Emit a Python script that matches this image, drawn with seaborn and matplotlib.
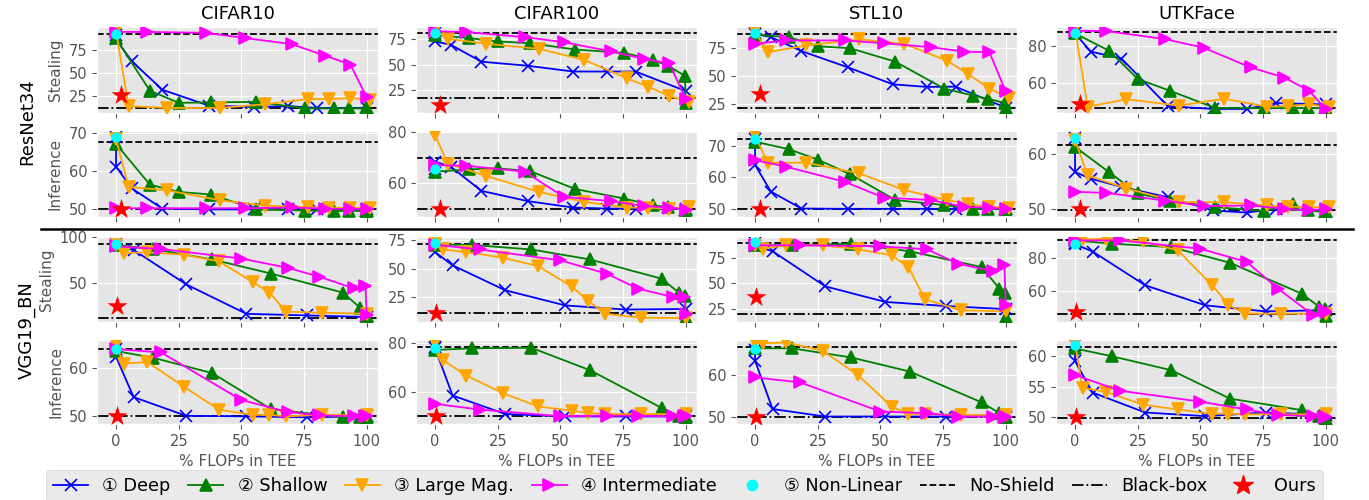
import matplotlib
matplotlib.use("Agg")
import matplotlib.pyplot as plt
from matplotlib.lines import Line2D
import seaborn as sns

# ---------------------------------------------------------------- data
datasets = ["CIFAR10", "CIFAR100", "STL10", "UTKFace"]
models = ["ResNet34", "VGG19_BN"]
metrics = ["Stealing", "Inference"]
method_labels = ["① Deep", "② Shallow", "③ Large Mag.", "④ Intermediate"]
extra_labels = ["⑤ Non-Linear", "No-Shield", "Black-box", "Ours"]
x_ticks = [0, 25, 50, 75, 100]

# % FLOPs in TEE for each partition strategy (ResNet34)
resnet_x_deep = [0, 0, 6.3, 18.5, 37, 55, 68.5, 80, 100]
resnet_x_shallow = [0, 13.5, 25, 38, 56, 75.5, 87, 93, 99.7, 100]
resnet_x_large = [0, 5, 20.5, 41.5, 59.5, 76.5, 85, 93.5, 101.5]
resnet_x_inter = [0, 12.5, 35.8, 51.3, 70, 83.5, 93.5, 100]

# % FLOPs in TEE for each partition strategy (VGG19_BN)
vgg_x_deep = [0, 0, 7, 28, 52, 76, 100]
vgg_x_shallow = [0, 14.8, 38.4, 61.8, 90.4, 97.5, 99.8, 100]
vgg_x_large = [0, 3, 12.5, 27, 41, 54.5, 61.2, 67.8, 82, 100]
vgg_x_inter = [0, 18, 50, 68.5, 81, 95, 99.5, 100]

# ResNet34 - model stealing accuracy (one list per dataset)
resnet_steal_deep = [
    [91, 86, 62.5, 32, 15, 13.5, 14.5, 12.5, 12.5],
    [81, 73, 69.7, 53, 49, 43.3, 43.3, 43.3, 24],
    [88.6, 88, 85, 72.5, 58, 42.8, 40.5, 40.7, 22],
    [87, 86.5, 76.7, 73, 47.3, 45.8, 45.8, 49, 48.2],
]
resnet_steal_shallow = [
    [87, 31, 18, 18.5, 19, 12, 12, 12, 12, 12],
    [79.5, 76.3, 73, 71.3, 65, 61.7, 54.7, 49, 39, 12.3],
    [87, 85, 76.8, 75, 63, 38.9, 32.8, 29.8, 26.2, 21.7],
    [86.5, 77.3, 62, 55.5, 46.3, 46.3, 46.3, 46.3, 46.3, 45.8],
]
resnet_steal_large = [
    [94.5, 14.5, 12.5, 12.5, 16.5, 22, 22, 23, 21.5],
    [84, 75.7, 70.7, 65.7, 54.7, 36.7, 28.3, 19, 13],
    [90, 71.5, 77.5, 83, 79, 64, 52, 39, 30.5],
    [89, 47, 51, 47.6, 51.3, 47, 47.3, 48.2, 47],
]
resnet_steal_inter = [
    [94, 94, 93, 87.5, 81, 68.5, 59, 24],
    [83, 82.3, 77.3, 72.3, 63.3, 55.7, 51.3, 15.7],
    [79, 82, 82, 79.5, 76, 72, 71.5, 36.5],
    [88, 87.8, 83.5, 78.8, 68.2, 62.7, 55.5, 45.5],
]

# ResNet34 - membership inference accuracy
resnet_infer_deep = [
    [68.9, 61.2, 55.5, 50.2, 50, 50, 50, 50, 50],
    [65.6, 68.5, 66.5, 57.1, 53.1, 50.6, 50.2, 50.2, 50.2],
    [72.4, 64, 55.5, 50.1, 50, 50, 50, 50, 50],
    [63, 56.7, 55.5, 54, 52.1, 49.7, 49.3, 50, 49.6],
]
resnet_infer_shallow = [
    [67.2, 56.5, 54.6, 53.9, 50, 49.7, 49.6, 49.6, 49.6, 49.6],
    [64.6, 65.5, 65.9, 64.8, 57.8, 54.1, 51.4, 50.8, 49.8, 49.5],
    [71.4, 69, 65.7, 61, 52.8, 51.2, 50.1, 50, 49.8, 49.8],
    [61.3, 56.7, 52.8, 51.5, 50.3, 49.6, 50.8, 49.7, 49.4, 49.4],
]
resnet_infer_large = [
    [68.5, 55.9, 55, 52.4, 51, 50.6, 50.4, 50.4, 50.4],
    [79, 67.8, 62.9, 56.7, 52.8, 50.6, 50.5, 50.2, 50.8],
    [73.5, 64.7, 64.7, 61.3, 56, 52.8, 51.5, 50.6, 50.4],
    [62.6, 56.1, 53.7, 51.2, 51.2, 50.6, 50.4, 50.3, 50.3],
]
resnet_infer_inter = [
    [50.3, 50.3, 50.3, 50.3, 50.5, 50.2, 50.1, 50.1],
    [67.2, 66.9, 64.6, 54.8, 53.1, 51.2, 50.6, 49.8],
    [65.5, 63.4, 58.6, 53.6, 52.8, 50.6, 50.4, 49.9],
    [53.1, 52.9, 51.5, 50.5, 50.6, 50, 49.7, 50],
]

# VGG19_BN - model stealing accuracy
vgg_steal_deep = [
    [92.5, 90, 86, 48, 15.5, 13.8, 12],
    [71, 64.7, 53, 31, 17.6, 14, 14.5],
    [89.5, 87, 81.6, 47, 31.6, 27.6, 24.5],
    [89, 88.5, 84, 63.3, 51, 47.3, 48],
]
vgg_steal_shallow = [
    [91.5, 87, 75.5, 60, 39, 22, 13, 13],
    [71.2, 71, 67, 58.2, 41.2, 28.5, 26, 6.5],
    [87.5, 87.5, 89, 81.6, 66, 44.7, 40.5, 16.8],
    [90.8, 88.8, 86.7, 77.1, 58.2, 50, 49, 44.5],
]
vgg_steal_large = [
    [92, 82.6, 83.3, 80.8, 73.5, 50.7, 39, 18, 16.7, 15.6],
    [72, 67, 64.7, 59.7, 52.4, 34.4, 21.5, 10.3, 6.8, 6.5],
    [88.2, 84.2, 87.5, 87.5, 83.6, 77.6, 66, 34.2, 23.4, 22.4],
    [91.8, 91.4, 91.8, 90.2, 84.7, 63.7, 51.4, 45.9, 45.9, 45.9],
]
vgg_steal_inter = [
    [90, 87, 76.5, 66.3, 56.5, 43.5, 45.7, 14.5],
    [71, 67, 57.4, 45.6, 32.4, 25, 25, 10.3],
    [87.5, 87.5, 86.5, 83.6, 69.4, 61.8, 68.4, 29],
    [90.8, 90.8, 85.7, 77.6, 61.2, 45, 48, 47],
]

# VGG19_BN - membership inference accuracy
vgg_infer_deep = [
    [64, 62.4, 54, 50.1, 50, 49.8, 50],
    [78.5, 78, 58.6, 51, 50, 50, 50],
    [66, 63.4, 51.8, 50, 50, 50, 50],
    [61.8, 59.2, 54, 50.7, 50.1, 50.7, 50.3],
]
vgg_infer_shallow = [
    [63.6, 62.2, 59, 51.5, 49.8, 49.8, 49.8, 49.8],
    [77.3, 78, 78.2, 69, 53.5, 50, 49.7, 49.7],
    [66.4, 66.4, 64.2, 60.8, 53.4, 50.8, 50, 49.8],
    [61.3, 60, 57.7, 53, 51.1, 50.1, 49.8, 49.7],
]
vgg_infer_large = [
    [65, 61, 61.3, 56.2, 51.4, 50.3, 50.3, 50, 50.3, 50.2],
    [80, 73.2, 66.8, 59.6, 54.1, 52.4, 51.4, 51, 51, 51],
    [67.8, 67.6, 67.8, 65.8, 60, 52.4, 50.6, 50.6, 50.4, 50.4],
    [62.2, 54.8, 54.1, 52, 51.2, 50.5, 50.5, 50.4, 50.4, 50.4],
]
vgg_infer_inter = [
    [64, 63.3, 53.4, 50.9, 50.2, 50, 50, 50],
    [55.2, 52.8, 50.1, 50.3, 50.3, 50, 50, 50],
    [59.4, 58.2, 51.2, 50.8, 50, 50, 50, 50],
    [56.9, 54.3, 52.5, 51.2, 50.3, 50.1, 50, 50],
]

# reference points per dataset: [CIFAR10, CIFAR100, STL10, UTKFace]
resnet_noshield_steal = [91.8, 81, 88, 87.3]
resnet_noshield_infer = [67.8, 70, 72.2, 61.7]
resnet_blackbox_steal = [12.5, 17.3, 21.4, 46.4]
resnet_blackbox_infer = [50, 50.2, 50, 49.7]
resnet_nonlinear_steal = [91.5, 81.3, 88.6, 86.7]
resnet_nonlinear_infer = [68.9, 65.6, 72.4, 63]
resnet_ours_steal = [26.5, 10, 34.3, 48.7]
resnet_ours_infer = [50, 50, 50, 50]
resnet_ours_x = 2.0

vgg_noshield_steal = [92.8, 71.5, 89.8, 91.2]
vgg_noshield_infer = [64.1, 78.6, 66.8, 61.6]
vgg_blackbox_steal = [10.9, 10.9, 20, 45.9]
vgg_blackbox_infer = [50, 50.1, 49.8, 49.8]
vgg_nonlinear_steal = [92.8, 73, 90.8, 88.8]
vgg_nonlinear_infer = [64, 78.2, 66.2, 61.8]
vgg_ours_steal = [24.6, 11.2, 36.5, 47]
vgg_ours_infer = [50, 50, 50, 50]
vgg_ours_x = 0.5

# y ticks and limits per row (one entry per dataset)
resnet_steal_yticks = [[25, 50, 75], [25, 50, 75], [25, 50, 75], [60, 80]]
resnet_infer_yticks = [[50, 60, 70], [60, 80], [50, 60, 70], [50, 60]]
vgg_steal_yticks = [[50, 100], [25, 50, 75], [25, 50, 75], [60, 80]]
vgg_infer_yticks = [[50, 60], [60, 80], [50, 60], [50, 55, 60]]
resnet_steal_ylim = [(7.1, 99.3), (2.3, 87.3), (17.2, 94), (43.6, 90)]
resnet_infer_ylim = [(48, 70.6), (46.9, 80.5), (47.4, 74.8), (48.5, 64.2)]
vgg_steal_ylim = [(6.5, 100.3), (3, 78), (11.8, 95.7), (40.8, 92.9)]
vgg_infer_ylim = [(48.4, 65.9), (46.9, 81.4), (48.2, 68.4), (48.8, 62.7)]

# ---------------------------------------------------------------- layout
rows = [
    dict(model=0, metric="Stealing",
         xs=[resnet_x_deep, resnet_x_shallow, resnet_x_large, resnet_x_inter],
         ys=[resnet_steal_deep, resnet_steal_shallow, resnet_steal_large, resnet_steal_inter],
         ns=resnet_noshield_steal, bb=resnet_blackbox_steal, nl=resnet_nonlinear_steal,
         ours=resnet_ours_steal, ours_x=resnet_ours_x,
         yticks=resnet_steal_yticks, ylim=resnet_steal_ylim),
    dict(model=0, metric="Inference",
         xs=[resnet_x_deep, resnet_x_shallow, resnet_x_large, resnet_x_inter],
         ys=[resnet_infer_deep, resnet_infer_shallow, resnet_infer_large, resnet_infer_inter],
         ns=resnet_noshield_infer, bb=resnet_blackbox_infer, nl=resnet_nonlinear_infer,
         ours=resnet_ours_infer, ours_x=resnet_ours_x,
         yticks=resnet_infer_yticks, ylim=resnet_infer_ylim),
    dict(model=1, metric="Stealing",
         xs=[vgg_x_deep, vgg_x_shallow, vgg_x_large, vgg_x_inter],
         ys=[vgg_steal_deep, vgg_steal_shallow, vgg_steal_large, vgg_steal_inter],
         ns=vgg_noshield_steal, bb=vgg_blackbox_steal, nl=vgg_nonlinear_steal,
         ours=vgg_ours_steal, ours_x=vgg_ours_x,
         yticks=vgg_steal_yticks, ylim=vgg_steal_ylim),
    dict(model=1, metric="Inference",
         xs=[vgg_x_deep, vgg_x_shallow, vgg_x_large, vgg_x_inter],
         ys=[vgg_infer_deep, vgg_infer_shallow, vgg_infer_large, vgg_infer_inter],
         ns=vgg_noshield_infer, bb=vgg_blackbox_infer, nl=vgg_nonlinear_infer,
         ours=vgg_ours_infer, ours_x=vgg_ours_x,
         yticks=vgg_infer_yticks, ylim=vgg_infer_ylim),
]

method_colors = ["blue", "green", "orange", "magenta"]
method_markers = ["x", "^", "v", ">"]

plt.style.use("ggplot")
plt.rcParams["font.family"] = ["DejaVu Sans"]

W, H = 1369, 500
fig = plt.figure(figsize=(W / 100, H / 100), dpi=100)

col_left = [97, 416, 736, 1056]
col_width = 281
row_span = [(27, 113), (131, 217), (237, 322), (340, 424)]

for r, spec in enumerate(rows):
    top, bot = row_span[r]
    for c, dname in enumerate(datasets):
        ax = fig.add_axes([col_left[c] / W, 1 - bot / H, col_width / W, (bot - top) / H])
        for i in range(4):
            sns.lineplot(x=spec["xs"][i], y=spec["ys"][i][c], ax=ax,
                         color=method_colors[i], marker=method_markers[i],
                         markersize=8.5, mec=method_colors[i], mew=1.2,
                         linewidth=1.3, sort=False, estimator=None,
                         errorbar=None, legend=False, zorder=3)
        sns.scatterplot(x=[0], y=[spec["nl"][c]], ax=ax, color="cyan",
                        marker="o", s=55, edgecolor="cyan", linewidth=0,
                        legend=False, zorder=4)
        ax.axhline(spec["ns"][c], color="black", ls="--", lw=1.3, zorder=2)
        ax.axhline(spec["bb"][c], color="black", ls="-.", lw=1.3, zorder=2)
        sns.scatterplot(x=[spec["ours_x"]], y=[spec["ours"][c]], ax=ax,
                        color="red", marker="*", s=230, edgecolor="red",
                        linewidth=0, legend=False, zorder=5)

        ax.set_xlim(-7.6, 104.5)
        ax.set_ylim(*spec["ylim"][c])
        ax.set_xticks(x_ticks)
        ax.set_yticks(spec["yticks"][c])
        ax.tick_params(labelsize=10.5, colors="#555555")
        ax.set_xlabel("")
        ax.set_ylabel("")
        if r < 3:
            ax.tick_params(labelbottom=False)
        else:
            ax.set_xlabel("% FLOPs in TEE", fontsize=11, color="#555555")
        if r == 0:
            ax.set_title(dname, fontsize=13, pad=6, color="black")
        if c == 0:
            ax.set_ylabel(spec["metric"], fontsize=11, color="#555555")

# model names beside each pair of rows
fig.text(27 / W, 1 - 122 / H, models[0], rotation=90, fontsize=13,
         ha="center", va="center")
fig.text(27 / W, 1 - 330 / H, models[1], rotation=90, fontsize=13,
         ha="center", va="center")

# divider between the two model groups
fig.add_artist(Line2D([41 / W, 1353 / W], [1 - 229 / H, 1 - 229 / H],
                      transform=fig.transFigure, color="black", lw=1.8))

handles = [
    Line2D([], [], color=method_colors[i], marker=method_markers[i],
           markersize=8.5, mew=1.2, lw=1.3)
    for i in range(4)
]
handles += [
    Line2D([], [], ls="none", marker="o", color="cyan", markersize=7.5),
    Line2D([], [], color="black", ls="--", lw=1.3),
    Line2D([], [], color="black", ls="-.", lw=1.3),
    Line2D([], [], ls="none", marker="*", color="red", markersize=15),
]
fig.legend(handles, method_labels + extra_labels, loc="center",
           bbox_to_anchor=(0.5, 0.028), ncol=8, fontsize=12.7,
           columnspacing=1.0, handlelength=2.0, handletextpad=0.8,
           frameon=True, fancybox=True)

fig.savefig("out.png", dpi=100)
